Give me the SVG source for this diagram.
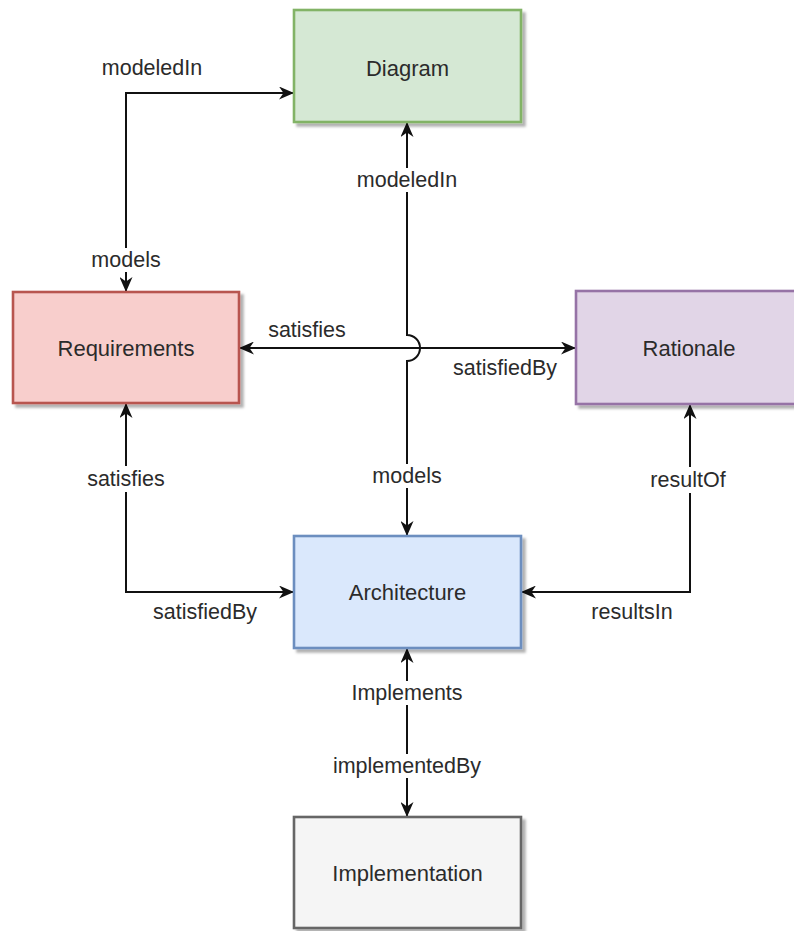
<svg xmlns="http://www.w3.org/2000/svg" width="794" height="931" viewBox="0 0 794 931">
  <style>
    .box { stroke-width: 2.6; filter: url(#shadow); }
    .name { font-family: "Liberation Sans", Arial, sans-serif; font-size: 22px; fill: #2b2b2b; text-anchor: middle; dominant-baseline: central; }
    .lbl { font-family: "Liberation Sans", Arial, sans-serif; font-size: 21.5px; fill: #2b2b2b; text-anchor: middle; dominant-baseline: central; }
    .edge { fill: none; stroke: #111; stroke-width: 2; marker-start: url(#arrow); marker-end: url(#arrow); }
    .bg { fill: #fff; }
  </style>
  <defs>
    <filter id="shadow" x="-10%" y="-10%" width="125%" height="130%">
      <feDropShadow dx="3.5" dy="3.5" stdDeviation="1.2" flood-color="#000" flood-opacity="0.3"/>
    </filter>
    <marker id="arrow" viewBox="0 0 15 13" refX="15" refY="6.5" markerWidth="15" markerHeight="13" markerUnits="userSpaceOnUse" orient="auto-start-reverse">
      <path d="M0,0 L15,6.5 L0,13 L4.5,6.5 Z" fill="#111"/>
    </marker>
  </defs>

  <rect width="794" height="931" fill="#fff"/>

  <!-- connectors -->
  <g id="connectors">
    <path class="edge" d="M126,292 V93 H294"/>
    <path class="edge" d="M407,122 V335 A13,13 0 0 1 407,361 V536"/>
    <path class="edge" d="M239,348 H576"/>
    <path class="edge" d="M126,403 V592 H294"/>
    <path class="edge" d="M690,404 V592 H521"/>
    <path class="edge" d="M407,648 V817"/>
  </g>

  <!-- connector labels -->
  <g id="labels">
    <text class="lbl" x="152" y="68">modeledIn</text>
    <rect class="bg" x="89" y="248" width="74" height="24"/>
    <text class="lbl" x="126" y="260">models</text>
    <rect class="bg" x="354" y="168" width="106" height="24"/>
    <text class="lbl" x="407" y="180">modeledIn</text>
    <rect class="bg" x="370" y="464" width="74" height="24"/>
    <text class="lbl" x="407" y="476">models</text>
    <text class="lbl" x="307" y="330">satisfies</text>
    <text class="lbl" x="505" y="368">satisfiedBy</text>
    <rect class="bg" x="85" y="466" width="82" height="26"/>
    <text class="lbl" x="126" y="479">satisfies</text>
    <text class="lbl" x="205" y="612">satisfiedBy</text>
    <rect class="bg" x="650" y="467" width="80" height="26"/>
    <text class="lbl" x="688" y="480">resultOf</text>
    <text class="lbl" x="632" y="612">resultsIn</text>
    <rect class="bg" x="349" y="681" width="116" height="24"/>
    <text class="lbl" x="407" y="693">Implements</text>
    <rect class="bg" x="330" y="754" width="154" height="24"/>
    <text class="lbl" x="407" y="766">implementedBy</text>
  </g>

  <!-- nodes -->
  <g id="diagram">
    <rect class="box" x="294" y="10" width="227" height="112" fill="#d5e8d4" stroke="#82b366"/>
    <text class="name" x="407.5" y="68">Diagram</text>
  </g>
  <g id="requirements">
    <rect class="box" x="13" y="292" width="226" height="111" fill="#f8cecc" stroke="#b85450"/>
    <text class="name" x="126" y="348">Requirements</text>
  </g>
  <g id="rationale">
    <rect class="box" x="576" y="291" width="227" height="113" fill="#e1d5e7" stroke="#9673a6"/>
    <text class="name" x="689" y="348">Rationale</text>
  </g>
  <g id="architecture">
    <rect class="box" x="294" y="536" width="227" height="112" fill="#dae8fc" stroke="#6c8ebf"/>
    <text class="name" x="407.5" y="592">Architecture</text>
  </g>
  <g id="implementation">
    <rect class="box" x="294" y="817" width="227" height="111" fill="#f5f5f5" stroke="#666666"/>
    <text class="name" x="407.5" y="873">Implementation</text>
  </g>
</svg>
